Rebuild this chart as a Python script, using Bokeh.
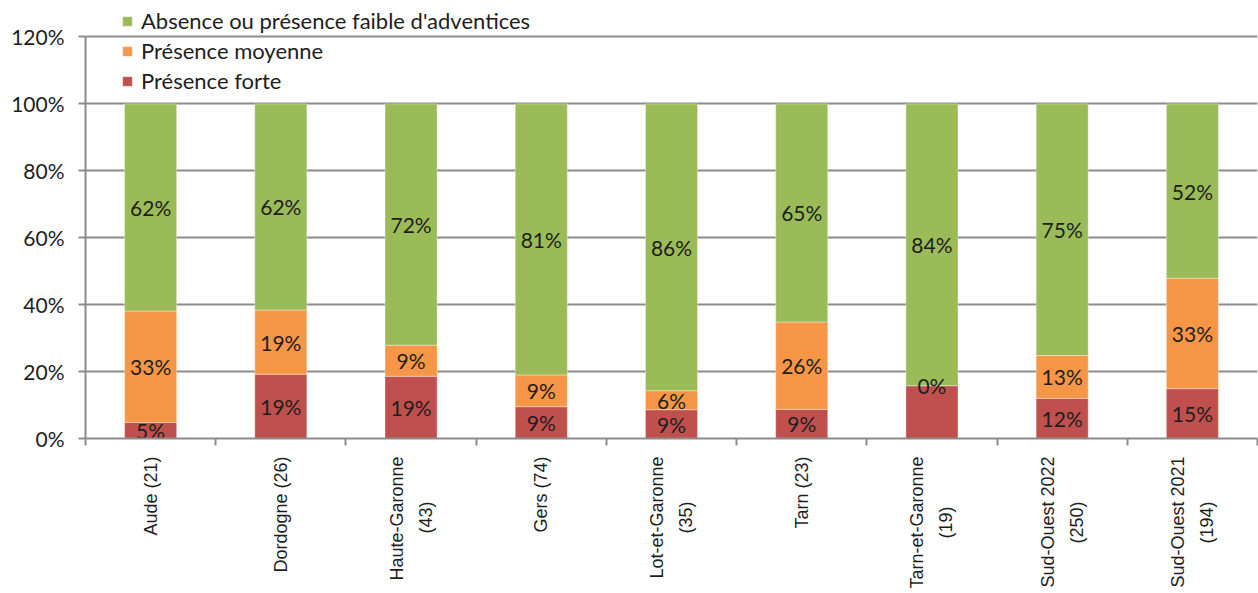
import math
from bokeh.plotting import figure
from bokeh.models import (Range1d, FixedTicker, PrintfTickFormatter, Legend,
                          LegendItem, ColumnDataSource)
from bokeh.core.properties import value
from bokeh.embed import file_html
from bokeh.resources import INLINE

# ---- data ----
categories = ["Aude (21)", "Dordogne (26)", "Haute-Garonne\n(43)", "Gers (74)",
              "Lot-et-Garonne\n(35)", "Tarn (23)", "Tarn-et-Garonne\n(19)",
              "Sud-Ouest 2022\n(250)", "Sud-Ouest 2021\n(194)"]
forte = [4.8, 19.2, 18.6, 9.5, 8.6, 8.7, 15.8, 12.0, 14.9]
moyenne = [33.3, 19.2, 9.3, 9.5, 5.7, 26.1, 0.0, 12.8, 33.0]
faible = [61.9, 61.6, 72.1, 81.0, 85.7, 65.2, 84.2, 75.2, 52.1]
labels_forte = ["5%", "19%", "19%", "9%", "9%", "9%", "", "12%", "15%"]
labels_moyenne = ["33%", "19%", "9%", "9%", "6%", "26%", "0%", "13%", "33%"]
labels_faible = ["62%", "62%", "72%", "81%", "86%", "65%", "84%", "75%", "52%"]
series_names = ["Présence forte", "Présence moyenne",
                "Absence ou présence faible d'adventices"]
y_ticks = [0, 20, 40, 60, 80, 100, 120]

colors = ["#C0504D", "#F79646", "#9BBB59"]
GRID = "#8c8c8c"
FONT = "Lato"
XFONT = "Liberation Sans"
TXT = "#1e1e1e"

# approximate Liberation Sans advance widths (1/1000 em), used to centre the
# second line of the wrapped category labels under the first one
_W = {" ": 278, "(": 333, ")": 333, "-": 333, "A": 667, "D": 722, "G": 778,
      "H": 722, "L": 611, "O": 778, "S": 667, "T": 611, "a": 556, "d": 556,
      "e": 556, "g": 556, "n": 556, "o": 556, "r": 333, "s": 500, "t": 278,
      "u": 556}


def _width(s):
    return sum(_W.get(ch, 556) for ch in s)


def centred(label):
    lines = label.split("\n")
    if len(lines) == 1:
        return label
    longest = max(_width(l) for l in lines)
    out = []
    for l in lines:
        pad = int(round((longest - _width(l)) / 2 / 278))
        out.append(l + "\u00a0" * pad)
    return "\n".join(out)


xs = list(range(1, len(categories) + 1))
src = ColumnDataSource(dict(x=xs, forte=forte, moyenne=moyenne, faible=faible))

p = figure(width=1258, height=593, output_backend="svg", toolbar_location=None,
           x_range=Range1d(0.5, len(categories) + 0.5), y_range=Range1d(0, 130.9),
           min_border_left=85, min_border_right=1, min_border_top=0,
           min_border_bottom=155)
p.outline_line_color = None
p.xgrid.grid_line_color = None

renderers = p.vbar_stack(["forte", "moyenne", "faible"], x="x", width=0.4,
                         color=colors, line_color="white", line_width=0.6,
                         line_alpha=0.6, source=src)

# data labels (centered in each segment)
bottoms = [0.0] * len(categories)
for vals, labs in ((forte, labels_forte), (moyenne, labels_moyenne),
                   (faible, labels_faible)):
    mids = [b + v / 2 for b, v in zip(bottoms, vals)]
    p.text(x=xs, y=mids, text=labs, text_align="center", text_baseline="middle",
           text_font=value(FONT), text_font_size="21px", text_color=TXT)
    bottoms = [b + v for b, v in zip(bottoms, vals)]

# y axis
yt = FixedTicker(ticks=y_ticks)
p.yaxis.ticker = yt
p.yaxis.bounds = (0, 120)
p.yaxis.formatter = PrintfTickFormatter(format="%d%%")
p.yaxis.axis_line_color = GRID
p.yaxis.axis_line_width = 2
p.yaxis.major_tick_line_color = GRID
p.yaxis.major_tick_line_width = 2
p.yaxis.major_tick_out = 7
p.yaxis.major_tick_in = 0
p.yaxis.minor_tick_line_color = None
p.yaxis.major_label_standoff = 14
p.yaxis.major_label_text_font = FONT
p.yaxis.major_label_text_font_size = "21px"
p.yaxis.major_label_text_color = TXT
p.ygrid.ticker = yt
p.ygrid.grid_line_color = GRID
p.ygrid.grid_line_width = 2

# x axis
p.xaxis.ticker = FixedTicker(ticks=xs,
                             minor_ticks=[i + 0.5 for i in range(len(categories) + 1)])
p.xaxis.major_label_overrides = {x: centred(c) for x, c in zip(xs, categories)}
p.xaxis.major_label_orientation = math.pi / 2
p.xaxis.major_tick_line_color = None
p.xaxis.major_tick_out = 0
p.xaxis.major_tick_in = 0
p.xaxis.minor_tick_line_color = GRID
p.xaxis.minor_tick_line_width = 2
p.xaxis.minor_tick_out = 7
p.xaxis.minor_tick_in = 0
p.xaxis.axis_line_color = GRID
p.xaxis.axis_line_width = 2
p.xaxis.major_label_standoff = 11
p.xaxis.major_label_text_font = XFONT
p.xaxis.major_label_text_font_size = "18px"
p.xaxis.major_label_text_line_height = 1.45
p.xaxis.major_label_text_color = TXT

legend = Legend(items=[LegendItem(label=series_names[2], renderers=[renderers[2]]),
                       LegendItem(label=series_names[1], renderers=[renderers[1]]),
                       LegendItem(label=series_names[0], renderers=[renderers[0]])],
                location=(36, 344), border_line_color=None, background_fill_alpha=0,
                padding=0, margin=0, glyph_width=12, glyph_height=12,
                label_standoff=8, spacing=3, label_height=23,
                label_text_font=FONT, label_text_font_size="22px",
                label_text_color=TXT)
p.add_layout(legend)

open("out.html", "w").write(file_html(p, INLINE))
